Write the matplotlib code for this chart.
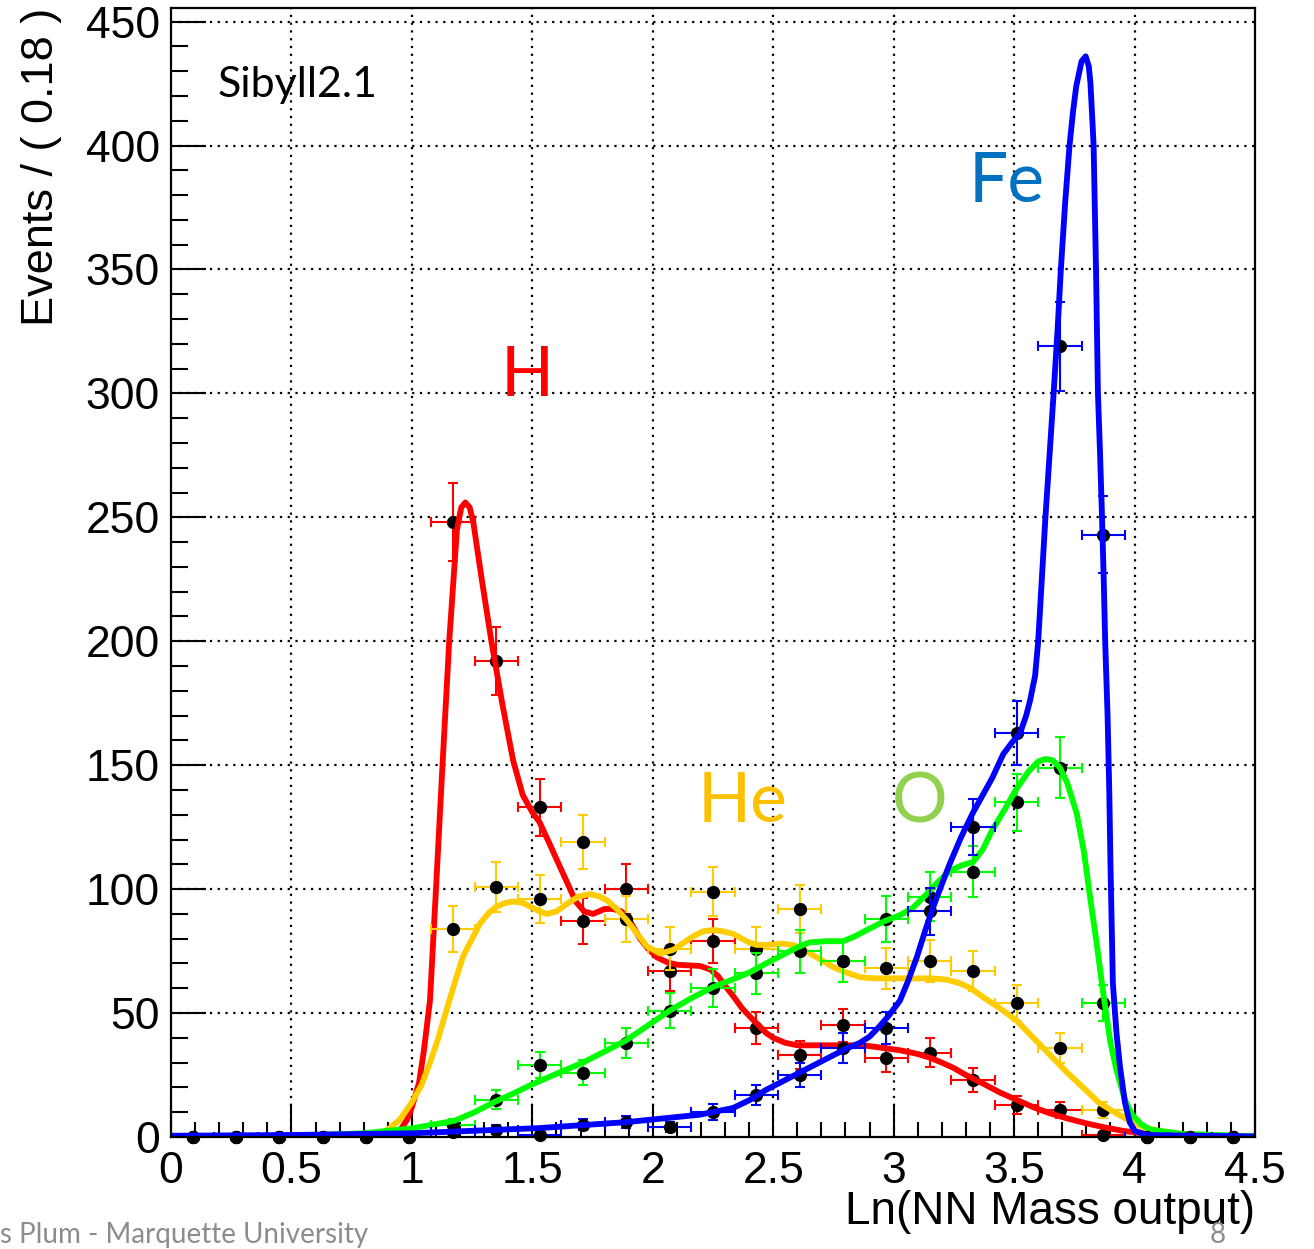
import numpy as np
import matplotlib
matplotlib.use("Agg")
import matplotlib.pyplot as plt
from matplotlib.ticker import MultipleLocator

# ---------------- data ----------------
bin_centers = [0.09, 0.27, 0.45, 0.63, 0.81, 0.99, 1.17, 1.35, 1.53, 1.71, 1.89, 2.07, 2.25,
               2.43, 2.61, 2.79, 2.97, 3.15, 3.33, 3.51, 3.69, 3.87, 4.05, 4.23, 4.41]
H_counts  = [0, 0, 0, 0, 0, 0, 248, 192, 133, 87, 100, 67, 79, 44, 33, 45, 32, 34, 23, 13, 11, 1, 0, 0, 0]
He_counts = [0, 0, 0, 0, 0, 0, 84, 101, 96, 119, 88, 76, 99, 76, 92, 71, 68, 71, 67, 54, 36, 11, 0, 0, 0]
O_counts  = [0, 0, 0, 0, 0, 0, 5, 15, 29, 26, 38, 51, 60, 66, 75, 71, 88, 97, 107, 135, 149, 54, 0, 0, 0]
Fe_counts = [0, 0, 0, 0, 0, 0, 2, 3, 1, 5, 6, 4, 10, 17, 25, 36, 44, 91, 125, 163, 319, 243, 0, 0, 0]

H_curve_x = [0.00, 0.85, 0.90, 0.95, 0.98, 1.00, 1.03, 1.05, 1.075, 1.10, 1.127, 1.155, 1.187, 1.205,
             1.222, 1.24, 1.255, 1.29, 1.33, 1.375, 1.42, 1.46, 1.50, 1.53, 1.573, 1.61, 1.643, 1.68,
             1.715, 1.752, 1.80, 1.835, 1.87, 1.90, 1.947, 1.98, 2.017, 2.06, 2.10, 2.196, 2.24, 2.27,
             2.30, 2.333, 2.37, 2.404, 2.44, 2.47, 2.50, 2.55, 2.60, 2.75, 2.874, 2.95, 3.026, 3.10,
             3.15, 3.20, 3.246, 3.30, 3.372, 3.44, 3.51, 3.58, 3.65, 3.72, 3.80, 3.87, 3.95, 4.05,
             4.20, 4.50]
H_curve_y = [0, 0, 0.5, 2.5, 7, 12, 22, 35, 55, 100, 150, 200, 245, 254,
             256, 254, 248, 225, 200, 175, 152, 138, 131, 127, 118, 110, 103, 95,
             91, 90, 92, 92, 91, 88, 80, 76, 72.5, 70.5, 69.5, 69, 67.5, 65,
             61, 57, 52, 48.5, 45, 42, 40, 38, 37, 37, 37, 36, 35, 33.5,
             32, 30, 28, 25, 21.5, 18, 15, 12, 9.5, 7.5, 5.5, 4, 2.5, 1.3,
             0.5, 0.1]

He_curve_x = [0.00, 0.80, 0.85, 0.90, 0.95, 1.00, 1.04, 1.075, 1.11, 1.143, 1.18, 1.213, 1.25, 1.282,
              1.32, 1.352, 1.39, 1.42, 1.46, 1.49, 1.53, 1.56, 1.60, 1.643, 1.69, 1.74, 1.78, 1.81,
              1.85, 1.892, 1.935, 1.975, 2.03, 2.085, 2.13, 2.168, 2.21, 2.25, 2.29, 2.333, 2.37,
              2.40, 2.43, 2.47, 2.54, 2.58, 2.61, 2.68, 2.75, 2.80, 2.86, 2.92, 2.97, 3.05, 3.16,
              3.22, 3.275, 3.32, 3.37, 3.44, 3.51, 3.58, 3.65, 3.72, 3.786, 3.85, 3.925, 3.98,
              4.035, 4.10, 4.19, 4.30, 4.50]
He_curve_y = [0, 0.3, 1, 3, 7, 14, 21, 30, 40, 51, 63, 73, 80, 86,
              90.5, 93, 94.5, 95, 94.5, 93, 91, 90, 91, 94, 97, 98, 97, 95.5,
              92, 87.5, 82, 77, 74, 75.5, 78.5, 81, 83, 83.5, 83, 82, 80,
              78.5, 77.5, 77.5, 78, 77.5, 76.5, 72.5, 68.5, 66.5, 64.5, 64, 64, 64, 64,
              63.5, 62, 60, 56.5, 52, 47, 40, 33, 26, 20, 14, 9.5, 6.5,
              4, 2.5, 1.3, 0.6, 0.1]

O_curve_x = [0.00, 0.50, 0.80, 1.00, 1.175, 1.26, 1.34, 1.42, 1.494, 1.60, 1.71, 1.80, 1.89, 1.98,
             2.07, 2.16, 2.25, 2.33, 2.404, 2.47, 2.54, 2.60, 2.65, 2.72, 2.79, 2.84, 2.888, 2.96,
             3.026, 3.08, 3.137, 3.19, 3.234, 3.28, 3.33, 3.37, 3.41, 3.46, 3.51, 3.56, 3.60, 3.63,
             3.66, 3.69, 3.72, 3.76, 3.79, 3.815, 3.84, 3.87, 3.90, 3.925, 3.96, 3.99, 4.03, 4.065,
             4.19, 4.50]
O_curve_y = [0.2, 0.5, 1.5, 3.5, 6.5, 10, 14, 17.5, 21, 25.5, 30, 34.5, 39, 45,
             51, 56, 60.5, 63.5, 66.5, 70, 73.5, 76.5, 78.5, 79, 79, 81, 83.5, 87,
             89.5, 92.5, 98, 103.5, 107.5, 109.5, 111, 116, 124, 132, 140.5, 147.5, 151.5, 152.5,
             152, 149, 143, 130.5, 115, 97, 80, 58, 38, 27, 15, 9, 5, 3,
             1.3, 0.3]

Fe_curve_x = [0.00, 0.50, 1.00, 1.53, 1.89, 2.196, 2.333, 2.404, 2.47, 2.54, 2.61, 2.68, 2.75, 2.80,
              2.86, 2.90, 2.94, 2.98, 3.026, 3.06, 3.096, 3.13, 3.165, 3.20, 3.234, 3.28, 3.33, 3.37,
              3.41, 3.455, 3.49, 3.525, 3.55, 3.566, 3.587, 3.60, 3.615, 3.63, 3.647, 3.664, 3.68,
              3.694, 3.712, 3.73, 3.745, 3.758, 3.78, 3.797, 3.81, 3.817, 3.825, 3.83, 3.84, 3.848,
              3.857, 3.865, 3.872, 3.878, 3.888, 3.895, 3.90, 3.91, 3.925, 3.94, 3.96, 3.98, 4.00,
              4.05, 4.50]
Fe_curve_y = [0.5, 0.8, 1.5, 3.6, 6, 9, 11.7, 15, 19, 22.5, 26, 29.5, 33, 35.5,
              38, 40.5, 44.5, 49, 55, 63, 72.5, 83, 93, 102, 110.5, 121, 131, 138,
              145, 154.5, 159, 163, 170, 176, 186, 200, 225, 250, 275, 300, 325,
              350, 377, 400, 414, 424, 434, 436, 432, 425, 410, 400, 350, 300,
              275, 250, 225, 200, 170, 140, 110, 62, 42, 28, 14, 6, 2.5,
              0.8, 0.2]

x_ticks = [0, 0.5, 1, 1.5, 2, 2.5, 3, 3.5, 4, 4.5]
x_tick_labels = ["0", "0.5", "1", "1.5", "2", "2.5", "3", "3.5", "4", "4.5"]
y_ticks = [0, 50, 100, 150, 200, 250, 300, 350, 400, 450]

species = [
    ("H", H_counts, H_curve_x, H_curve_y, "#ff0000"),
    ("He", He_counts, He_curve_x, He_curve_y, "#ffcc00"),
    ("O", O_counts, O_curve_x, O_curve_y, "#00ff00"),
    ("Fe", Fe_counts, Fe_curve_x, Fe_curve_y, "#0000ff"),
]

# ---------------- figure ----------------
W, H = 1314, 1249
fig = plt.figure(figsize=(W / 100, H / 100), dpi=100)

def fx(px):
    return px / W

def fy(py):
    return 1 - py / H

ax_l, ax_r, ax_t, ax_b = 171, 1255, 8, 1137
ax = fig.add_axes([fx(ax_l), fy(ax_b), (ax_r - ax_l) / W, (ax_b - ax_t) / H])
ax.set_xlim(0, 4.5)
ax.set_ylim(0, 455.5)

# grid
for xv in x_ticks[1:-1]:
    ax.axvline(xv, color="black", lw=1.6, ls=(0, (1, 2.5)), zorder=0.5)
for yv in y_ticks[1:]:
    ax.axhline(yv, color="black", lw=1.6, ls=(0, (1, 2.5)), zorder=0.5)

z = 2
xc = np.array(bin_centers)
for name, counts, cx, cy, col in species:
    c = np.array(counts, dtype=float)
    err = np.sqrt(c)
    ax.errorbar(xc, c, yerr=err, xerr=0.09, fmt="none", ecolor=col, elinewidth=1.5,
                capsize=3.5, capthick=1.5, zorder=z, clip_on=True)
    ax.plot(xc, c, "o", color="black", ms=8.5, zorder=z + 0.1, clip_on=False)
    ax.plot(cx, cy, color=col, lw=4.2, zorder=z + 0.2, solid_capstyle="round",
            solid_joinstyle="round")
    z += 1

# ticks
ax.set_xticks(x_ticks)
ax.set_xticklabels(x_tick_labels)
ax.set_yticks(y_ticks)
ax.xaxis.set_minor_locator(MultipleLocator(0.1))
ax.yaxis.set_minor_locator(MultipleLocator(10))
ax.tick_params(axis="x", which="major", direction="in", length=24, width=1.5, pad=10,
               labelsize=32, top=False)
ax.tick_params(axis="x", which="minor", direction="in", length=11, width=1.5, top=False)
ax.tick_params(axis="y", which="major", direction="in", length=25, width=1.5, pad=8,
               labelsize=32, right=False)
ax.tick_params(axis="y", which="minor", direction="in", length=12, width=1.5, right=False)
for lab in ax.get_xticklabels() + ax.get_yticklabels():
    lab.set_family(["Liberation Sans", "DejaVu Sans"])
for s in ax.spines.values():
    s.set_linewidth(1.6)
    s.set_zorder(10)

# axis titles
fig.text(fx(1255), fy(1212), "Ln(NN Mass output)", ha="right", va="center", fontsize=33,
         family=["Liberation Sans", "DejaVu Sans"])
fig.text(fx(42), fy(8), "Events / ( 0.18 )", ha="center", va="top", rotation=90, fontsize=32.5,
         family=["Liberation Sans", "DejaVu Sans"])

# annotations
lab_font = ["Lato", "DejaVu Sans"]
fig.text(fx(218), fy(85), "Sibyll2.1", ha="left", va="center", fontsize=31, family=lab_font,
         color="black")
fig.text(fx(527), fy(376), "H", ha="center", va="center", fontsize=50, family=lab_font,
         color="#ff0000")
fig.text(fx(742), fy(803), "He", ha="center", va="center", fontsize=50, family=lab_font,
         color="#ffc000")
fig.text(fx(920), fy(803), "O", ha="center", va="center", fontsize=50, family=lab_font,
         color="#92d050")
fig.text(fx(1007), fy(183), "Fe", ha="center", va="center", fontsize=50, family=lab_font,
         color="#0070c0")

# slide footer remnants
fig.text(fx(0), fy(1243), "s Plum - Marquette University", ha="left", va="baseline",
         fontsize=20, family=lab_font, color="#8c8c8c")
fig.text(fx(1218), fy(1243), "8", ha="center", va="baseline", fontsize=20, family=lab_font,
         color="#8c8c8c")

fig.savefig("out.png", dpi=100)
